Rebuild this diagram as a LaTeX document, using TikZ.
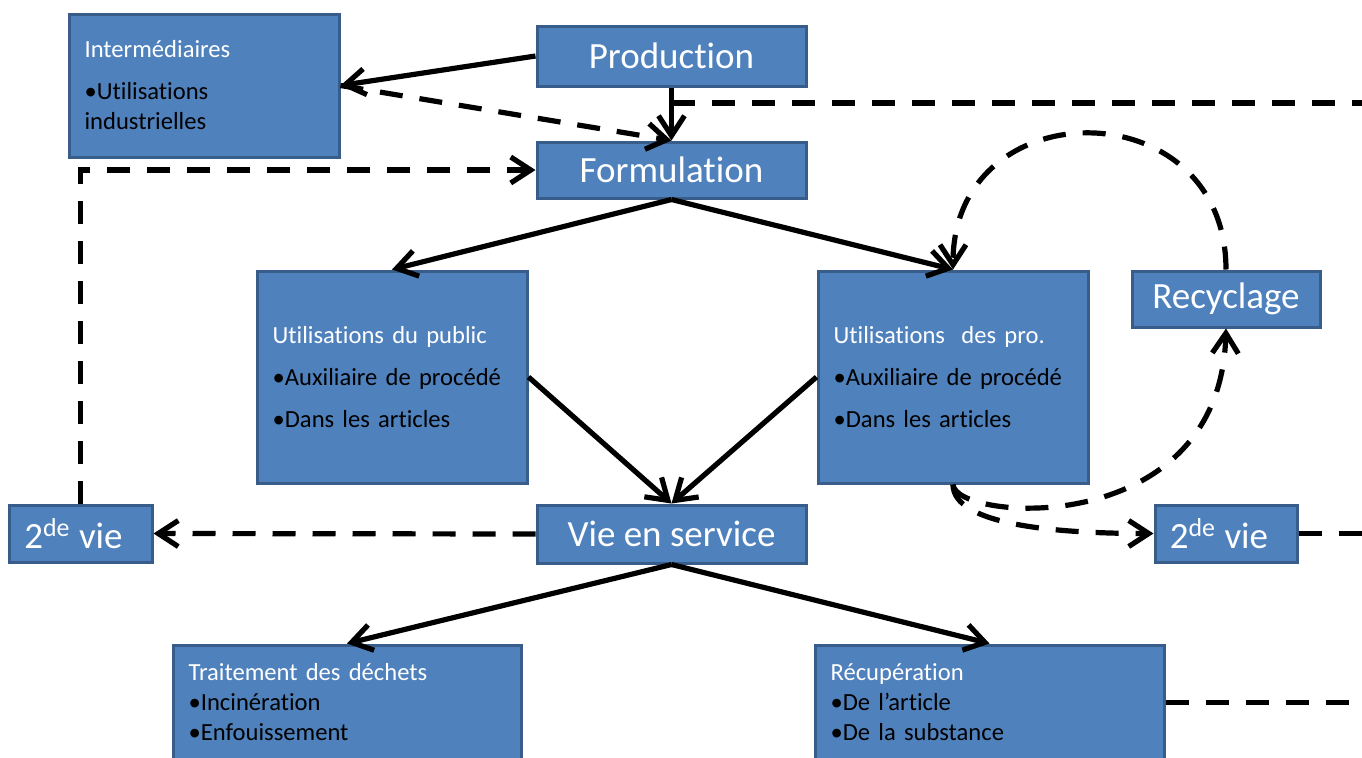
\documentclass[tikz,border=0pt]{standalone}
\usepackage{fontspec}
\setmainfont{Carlito}[Ligatures=NoCommon]
\newfontfamily\petit{Carlito}[Ligatures=NoCommon, WordSpace=0.75]
\usetikzlibrary{arrows.meta}
\definecolor{boxfill}{HTML}{4F81BD}
\definecolor{boxedge}{HTML}{385D8A}
\newcommand{\puce}[1]{{\color{black}\textbullet#1}}

\begin{document}
\begin{tikzpicture}[
  x=0.5pt, y=-0.5pt, % une unité = un pixel de l'image
  bluebox/.style={draw=boxedge, fill=boxfill, line width=1.5pt, text=white},
  bigbox/.style={bluebox, inner sep=0pt, font=\fontsize{18.5}{22}\selectfont},
  textbox/.style={bluebox, align=left, inner xsep=7.8pt, inner ysep=0pt, font=\petit\fontsize{12.3}{15}\selectfont},
  link/.style={line width=2.6pt, -{Straight Barb[length=10pt,width=13pt]}},
  dlink/.style={link, dash pattern=on 11.5pt off 8.5pt},
  dline/.style={line width=2.6pt, dash pattern=on 11.5pt off 8.5pt},
  ]
\useasboundingbox (0,0) rectangle (1362,757);

% Boîtes
\node[textbox, minimum width=135pt, minimum height=71.5pt, text width=119.4pt] (inter) at (204,85.5)
  {Intermédiaires\\[6pt]\puce{Utilisations}\\{\color{black}industrielles}};
\node[bigbox, minimum width=134.5pt, minimum height=30pt] (prod) at (671.5,56) {Production};
\node[bigbox, minimum width=134.5pt, minimum height=28pt] (form) at (671.5,170) {Formulation};
\node[textbox, minimum width=135pt, minimum height=106pt, text width=119.4pt] (pub) at (392,377)
  {Utilisations du public\\[6pt]\puce{Auxiliaire de procédé}\\[6pt]\puce{Dans les articles}};
\node[textbox, minimum width=135pt, minimum height=106pt, text width=119.4pt] (pro) at (953,377)
  {Utilisations\ \ des pro.\\[6pt]\puce{Auxiliaire de procédé}\\[6pt]\puce{Dans les articles}};
\node[bigbox, minimum width=94pt, minimum height=28pt] (recy) at (1226,299) {\raisebox{-1.5pt}{Recyclage}};
\node[bigbox, minimum width=71.5pt, minimum height=28.5pt] (vieL) at (80.5,533.5) {2\textsuperscript{de} vie\kern7pt};
\node[bigbox, minimum width=134.5pt, minimum height=29pt] (serv) at (671.5,534) {Vie en service};
\node[bigbox, minimum width=71pt, minimum height=28.5pt] (vieR) at (1226,533.5) {2\textsuperscript{de} vie\kern7pt};
\node[textbox, minimum width=174pt, minimum height=57.5pt, text width=158.4pt] (trait) at (347,702.5)
  {Traitement des déchets\\\puce{Incinération}\\\puce{Enfouissement}};
\node[textbox, minimum width=174.5pt, minimum height=57.5pt, text width=158.9pt] (recup) at (989.5,702.5)
  {Récupération\\\puce{De l’article}\\\puce{De la substance}};

% Bouts libres hors du cadre
\coordinate (junc) at (671.5,103);
\coordinate (outA) at (1372,103);
\coordinate (outB) at (1372,533.5);
\coordinate (outC) at (1372,702.5);

% Liaisons
\draw[link] (prod.west) -- (inter.east);
\draw[dlink] (inter.east) -- (form.north);
\draw[link] (prod.south) -- (form.north);
\draw[dline] (junc) -- (outA);
\draw[dlink] (vieL.north) |- (form.west);
\draw[link] (form.south) -- (pub.north);
\draw[link] (form.south) -- (pro.north);
\draw[link] (pub.east) -- (serv.north);
\draw[link] (pro.west) -- (serv.north);
\draw[dlink] (serv.west) -- (vieL.east);
\draw[link] (serv.south) -- (trait.north);
\draw[link] (serv.south) -- (recup.north);
\draw[dlink] (recy.north) to[out=90, in=90, looseness=1.7] (pro.north);
\draw[dlink] (pro.south) .. controls +(2,37) and +(-6,213) .. (recy.south);
\draw[dlink] (pro.south) .. controls +(0,40) and +(-100,0) .. (vieR.west);
\draw[dline] (vieR.east) -- (outB);
\draw[dline] (recup.east) -- (outC);

\end{tikzpicture}
\end{document}
